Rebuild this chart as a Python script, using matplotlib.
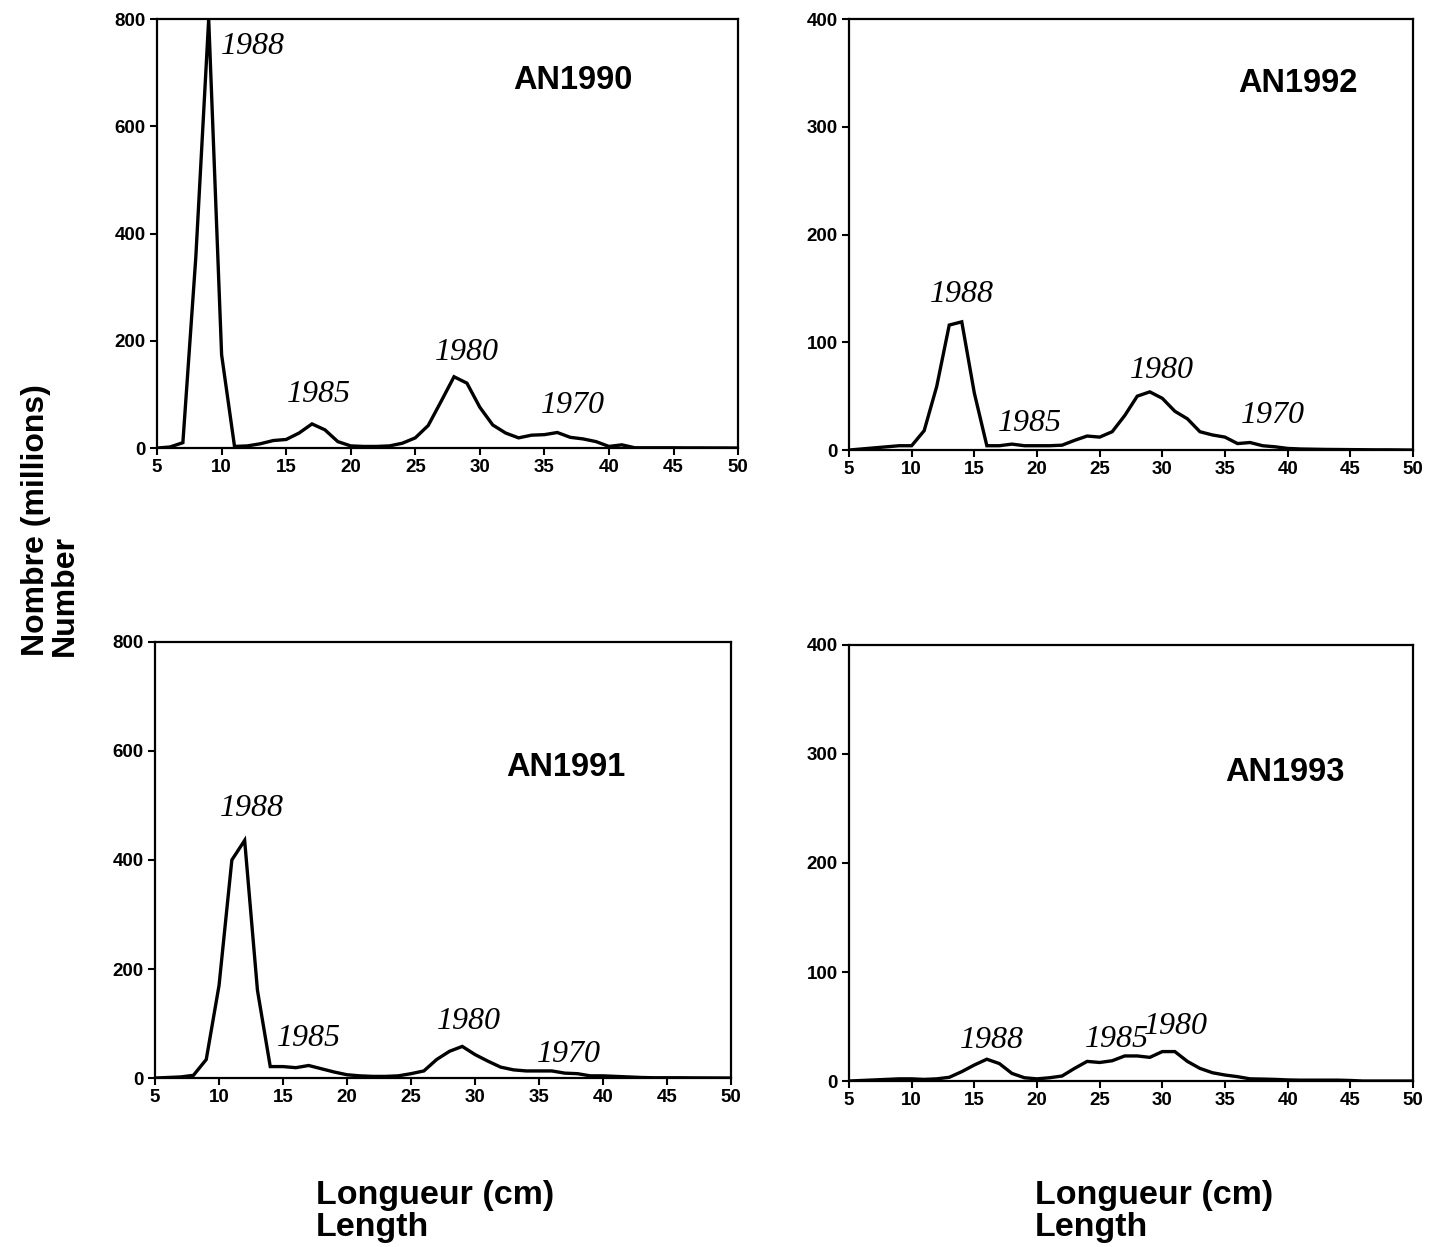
import numpy as np
import matplotlib.pyplot as plt

plt.rcParams['font.family'] = ['Liberation Sans', 'DejaVu Sans']

# longueurs (cm)
lengths = np.arange(5, 51)

# AN1990 - nombre (millions)
n1990 = [0, 2, 10, 355, 800, 174, 3, 4, 8, 14,
         16, 28, 45, 34, 12, 4, 3, 3, 4, 9,
         19, 42, 87, 133, 121, 76, 43, 28, 19, 24,
         25, 29, 20, 17, 12, 3, 6, 0.5, 0.5, 0.5,
         0.5, 0.3, 0.3, 0.2, 0.2, 0]
# AN1992
n1992 = [0, 1, 2, 3, 4, 4, 18, 59, 116, 119,
         53, 4, 4, 5.5, 4, 4, 4, 4.5, 9, 13,
         12, 17, 32, 50, 54, 48, 36, 29, 17, 14,
         12, 6, 7, 4, 3, 1.5, 1, 0.8, 0.6, 0.5,
         0.4, 0.3, 0.2, 0.2, 0.1, 0]
# AN1991
n1991 = [0, 1, 2, 5, 34, 170, 400, 436, 161, 21,
         21, 19, 23, 17, 11, 6, 4, 3, 3, 4,
         8, 13, 34, 49, 58, 43, 31, 20, 15, 13,
         13, 13, 9, 8, 4, 4, 3, 2, 1, 0.5,
         0.5, 0.5, 0.3, 0.2, 0.1, 0]
# AN1993
n1993 = [0, 0.5, 1, 1.5, 2, 2, 1.5, 2, 3.4, 8.6,
         14.7, 20, 16, 7, 3, 2, 3, 4.6, 11.6, 18,
         17, 18.6, 23, 23, 21.7, 27, 27, 18, 11.6, 7.6,
         5.5, 4, 2, 1.8, 1.5, 1, 0.8, 0.8, 0.8, 0.8,
         0.5, 0, 0, 0, 0, 0]

# (titre, données, ymax, position axes, position titre, annotations cohortes)
panels = [
    ('AN1990', n1990, 800, [0.1099, 0.6407, 0.4066, 0.3440], (37.2, 686),
     [('1988', 12.4, 748), ('1985', 17.5, 99), ('1980', 29.0, 179), ('1970', 37.2, 80)]),
    ('AN1992', n1992, 400, [0.5941, 0.6391, 0.3947, 0.3456], (40.8, 340),
     [('1988', 14.0, 144), ('1985', 19.4, 25), ('1980', 30.0, 74), ('1970', 38.8, 32)]),
    ('AN1991', n1991, 800, [0.1085, 0.1355, 0.4031, 0.3497], (37.1, 569),
     [('1988', 12.6, 494), ('1985', 17.0, 73), ('1980', 29.5, 103), ('1970', 37.3, 44)]),
    ('AN1993', n1993, 400, [0.5941, 0.1331, 0.3947, 0.3497], (39.8, 283),
     [('1988', 16.4, 37), ('1985', 26.4, 38), ('1980', 31.1, 50)]),
]

fig = plt.figure(figsize=(14.29, 12.47), dpi=100)

for title, data, ymax, pos, tpos, years in panels:
    ax = fig.add_axes(pos)
    ax.plot(lengths, data, color='black', lw=2.4, solid_joinstyle='miter')
    ax.set_xlim(5, 50)
    ax.set_ylim(0, ymax)
    ax.set_xticks(np.arange(5, 51, 5))
    ax.set_yticks(np.arange(0, ymax + 1, ymax // 4))
    ax.tick_params(direction='out', length=5, width=1.5, labelsize=13.5, pad=3)
    for lab in ax.get_xticklabels() + ax.get_yticklabels():
        lab.set_fontweight('bold')
    for sp in ax.spines.values():
        sp.set_linewidth(1.6)
    ax.text(tpos[0], tpos[1], title, ha='center', va='center',
            fontsize=23.5, fontweight='bold')
    for yr, x, y in years:
        ax.text(x, y, yr, ha='center', va='center', fontsize=23,
                style='italic', family='Liberation Serif')

fig.text(0.035, 0.583, 'Nombre (millions)\nNumber', rotation=90,
         ha='center', va='center', multialignment='left',
         fontsize=23, fontweight='bold', linespacing=0.95)
fig.text(0.221, 0.003, 'Longueur (cm)\nLength', ha='left', va='bottom',
         fontsize=24.5, fontweight='bold', linespacing=1.05)
fig.text(0.724, 0.003, 'Longueur (cm)\nLength', ha='left', va='bottom',
         fontsize=24.5, fontweight='bold', linespacing=1.05)

fig.savefig('out.png', dpi=100)
